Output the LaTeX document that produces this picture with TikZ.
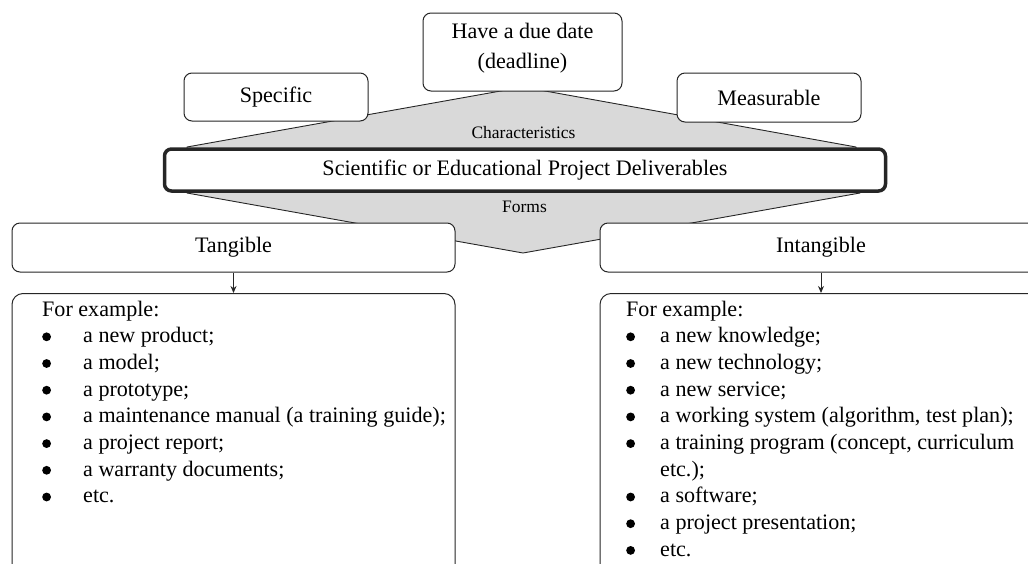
\documentclass[tikz,border=0pt]{standalone}
\usepackage{fontspec}
\setmainfont{Liberation Serif}
\usetikzlibrary{arrows.meta}
\pgfdeclarelayer{bg}
\pgfsetlayers{bg,main}
\newlength{\itmw}
\setlength{\itmw}{41pt}
\newcommand{\itm}{\makebox[\itmw][l]{\raisebox{1.5pt}{\tikz\fill[black] (0,0) circle (4.4pt);}}}
\tikzset{
  box/.style={draw=black!85, line width=1pt, rounded corners=8pt, fill=white,
    inner sep=0pt, font=\fontsize{22.1}{26.7}\selectfont},
  tag/.style={inner sep=0pt, font=\fontsize{17.5}{20}\selectfont},
  list/.style={inner sep=0pt, anchor=base west, font=\fontsize{22.1}{26.7}\selectfont},
  arr/.style={-{Stealth[length=7pt,width=6pt]}, line width=1pt, draw=black!85}
}
\begin{document}
\begin{tikzpicture}[x=1pt,y=-1pt]
        \useasboundingbox (0,0) rectangle (1028,563);
        \clip (0,0) rectangle (1028,563);
        \node (k1) [box, minimum width=184pt, minimum height=48pt] at (276,97) {Specific};
        \node (k2) [box, align=center, text depth=12pt, minimum width=199pt, minimum height=78pt] at (522.5,52)
                {Have a due date\\[3pt](deadline)};
        \node (k3) [box, minimum width=184pt, minimum height=49pt] at (769,97.5) {Measurable};
        \node (m) [box, line width=3.5pt, rounded corners=7pt, minimum width=721pt, minimum height=42pt] at (525,170)
                {Scientific or Educational Project Deliverables};
        \node (l1) [tag] at (523.5,133) {Characteristics};
        \node (l2) [tag] at (524.5,207) {Forms};
        \node (f1) [box, minimum width=443pt, minimum height=49pt] at (233.5,247.5) {Tangible};
        \node (f2) [box, minimum width=442pt, minimum height=49pt] at (821,247.5) {Intangible};
        \node (e1) [box, rounded corners=11pt, anchor=north, minimum width=443pt, minimum height=300pt] at (233.5,293) {};
        \node (e2) [box, rounded corners=11pt, anchor=north, minimum width=442pt, minimum height=300pt] at (821,293) {};
        \node (t1) [list] at (42,316) {\begin{tabular}[t]{@{}l@{}}
                For example:\\
                \itm a new product;\\
                \itm a model;\\
                \itm a prototype;\\
                \itm a maintenance manual (a training guide);\\
                \itm a project report;\\
                \itm a warranty documents;\\
                \itm etc.
        \end{tabular}};
        \node (t2) [list] at (626,316) {\setlength{\itmw}{34pt}\begin{tabular}[t]{@{}l@{}}
                For example:\\
                \itm a new knowledge;\\
                \itm a new technology;\\
                \itm a new service;\\
                \itm a working system (algorithm, test plan);\\
                \itm a training program (concept, curriculum\\
                \hspace{\itmw}etc.);\\
                \itm a software;\\
                \itm a project presentation;\\
                \itm etc.
        \end{tabular}};
        \coordinate (p1) at (187,147);
        \coordinate (p2) at (523,87);
        \coordinate (p3) at (856,147);
        \coordinate (p4) at (860,193);
        \coordinate (p5) at (523,253);
        \coordinate (p6) at (187,193);
        \begin{pgfonlayer}{bg}
                \draw [draw=black!85, line width=0.9pt, fill=black!15] (p1) -- (p2) -- (p3) -- (p4) -- (p5) -- (p6) -- cycle;
        \end{pgfonlayer}
        \draw (f1) edge [arr] (e1);
        \draw (f2) edge [arr] (e2);
\end{tikzpicture}
\end{document}
